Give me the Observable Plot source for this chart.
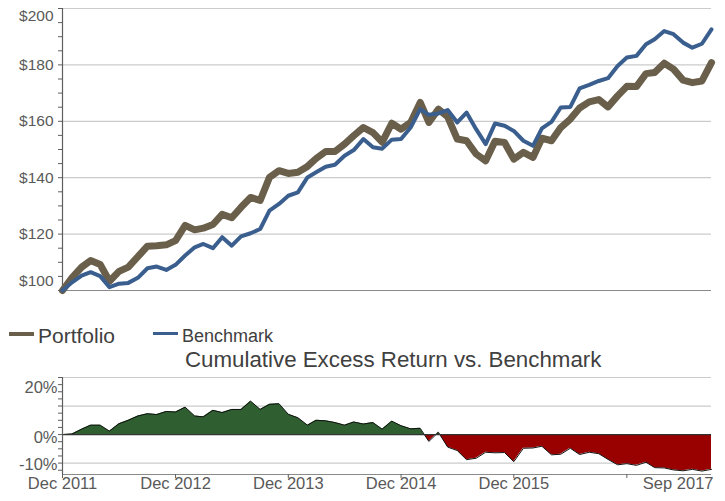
<!DOCTYPE html>
<html><head><meta charset="utf-8">
<script src="https://cdn.jsdelivr.net/npm/d3@7"></script>
<script src="https://cdn.jsdelivr.net/npm/@observablehq/plot@0.6"></script>
<style>
body{margin:0;background:#fff;font-family:"Liberation Sans",Arial,sans-serif;}
#wrap{position:relative;width:725px;height:501px;overflow:hidden;background:#fff}
#top{position:absolute;left:0;top:0}
#bot{position:absolute;left:0;top:370px}
.leg{position:absolute;white-space:nowrap;color:#404040;line-height:1}
.sw{position:absolute}
</style></head><body>
<div id="wrap">
  <div id="top"></div>
  <div id="legend"></div>
  <div class="leg" id="title" style="left:185px;top:349px;font-size:22.3px">Cumulative Excess Return vs. Benchmark</div>
  <div id="bot"></div>
</div>
<script>
// ---- data (monthly, Dec 2011 .. Sep 2017) ----
const startMonth = new Date(Date.UTC(2011, 11, 1));
const endMonth = new Date(Date.UTC(2017, 8, 1));
const seriesNames = ["Portfolio", "Benchmark"];
const seriesColors = ["#6a5f4b", "#3a5f8e"];

const portfolio = [100,104.6,108.3,110.6,109.2,103.3,106.8,108.3,112,115.7,115.9,116.2,117.7,123.1,121.5,122.1,123.4,127,125.8,129.5,
133,131.9,140.1,142.5,141.5,141.9,144,146.8,149.3,149.3,151.9,154.9,157.8,156,152.6,159.3,157.2,159.6,166.7,159.6,
164.3,161.6,153.7,153.1,148.4,146,152.9,152.5,146.6,149,147.2,154,153.1,157.8,160.8,164.7,166.9,167.7,165.1,169,
172.4,172.3,176.9,177.3,180.6,178.5,174.6,173.7,174.3,180.8];

const benchmark = [100,102.9,105.3,106.5,105.1,101.2,102.4,102.7,104.5,107.9,108.5,107.3,109.1,112.4,115.3,116.5,115,118.9,115.9,119.2,
120.3,121.8,128.3,130.7,133.6,134.8,140.1,141.9,143.9,144.6,147.8,149.8,153.7,150.8,150.3,153.5,153.7,157.8,164.3,162.3,
162.8,164,159.6,163.1,157.2,151.9,159.2,158.4,156.6,153.1,151.3,157.5,159.8,164.9,165.1,171.7,172.9,174.3,175.3,179.6,
182.6,183.2,187.3,189.1,192,190.9,187.9,186.1,187.5,192.6];

// cumulative excess return, percent
const excess = [0,0.2,1.9,3.3,3.3,1.2,3.8,5,6.5,7.3,7,8.1,7.9,9.6,6.5,6.2,8.5,7.7,8.8,8.8,
11.7,8.8,10.6,10.8,7.1,5.9,3.3,5,4.8,4.2,3.3,4.4,3.7,4.2,1.9,4.7,3.1,2,2.2,-2.4,
0.8,-4.4,-5.6,-8.8,-8.3,-6.2,-6.4,-6.3,-9.5,-4.8,-4.7,-4.1,-7.1,-6.9,-4.8,-7,-6.2,-6.7,-8.7,-10.6,
-10.2,-10.8,-9.7,-11.6,-11.7,-12.4,-12.7,-12.2,-12.8,-12.2];

// ticks
const topGrid = [120, 140, 160, 180, 200];
const topMinor = [100,105,110,115,120,125,130,135,140,145,150,155,160,165,170,175,180,185,190,195,200];
const botGrid = [20, 10, -10];
const botMinor = [-12.5,-10,-7.5,-5,-2.5,0,2.5,5,7.5,10,12.5,15,17.5,20];
const xTickYears = [2011, 2012, 2013, 2014, 2015, 2016];
const xLabelYears = [2011, 2012, 2013, 2014, 2015];

// ---- build ----
const months = d3.utcMonth.range(startMonth, d3.utcMonth.offset(endMonth, 1));
const rows = months.map((d, i) => ({date: d, portfolio: portfolio[i], benchmark: benchmark[i], excess: excess[i]}));
const xDomain = [startMonth, endMonth];
const xTicks = xTickYears.map(y => new Date(Date.UTC(y, 11, 1)));
const xLabels = xLabelYears.map(y => new Date(Date.UTC(y, 11, 1)));
const fmt = d3.utcFormat("%b %Y");
const font = '"Liberation Sans", Arial, sans-serif';

const topPlot = Plot.plot({
  width: 725, height: 300, marginLeft: 62, marginRight: 14, marginTop: 8, marginBottom: 10,
  x: {type: "utc", domain: xDomain, axis: null, label: null},
  y: {domain: [100, 200], axis: null, label: null},
  style: {fontFamily: font, fontSize: "15.5px", color: "#595959", background: "transparent", overflow: "visible"},
  marks: [
    Plot.gridY(topGrid, {stroke: "#cbcbcb", strokeOpacity: 1, strokeWidth: 1.2}),
    Plot.ruleY([100], {stroke: "#8a8a8a", strokeWidth: 1.2}),
    Plot.ruleX([startMonth], {stroke: "#5e5e5e", strokeWidth: 1.2}),
    Plot.axisY(topMinor, {tickSize: 4, tickFormat: () => "", stroke: "#5e5e5e", label: null}),
    Plot.axisY([200], {tickSize: 0, tickPadding: 9, tickFormat: d => "$" + d, dy: 8, fill: "#595959", label: null}),
    Plot.axisY([120, 140, 160, 180], {tickSize: 0, tickPadding: 9, tickFormat: d => "$" + d, fill: "#595959", label: null}),
    Plot.axisY([100], {tickSize: 0, tickPadding: 9, tickFormat: d => "$" + d, dy: -9, fill: "#595959", label: null}),
    Plot.lineY(rows, {x: "date", y: "portfolio", stroke: seriesColors[0], strokeWidth: 7, strokeLinejoin: "round"}),
    Plot.lineY(rows, {x: "date", y: "benchmark", stroke: seriesColors[1], strokeWidth: 4, strokeLinejoin: "round"})
  ]
});
document.getElementById("top").append(topPlot);

const botPlot = Plot.plot({
  width: 725, height: 131, marginLeft: 62, marginRight: 14, marginTop: 7, marginBottom: 27,
  x: {type: "utc", domain: xDomain, axis: null, label: null},
  y: {domain: [-14, 20], axis: null, label: null},
  style: {fontFamily: font, fontSize: "16.5px", color: "#595959", background: "transparent", overflow: "visible"},
  marks: [
    Plot.gridY(botGrid, {stroke: "#cbcbcb", strokeOpacity: 1, strokeWidth: 1.2}),
    Plot.areaY(rows, {x: "date", y1: 0, y2: "excess", fill: "url(#exGrad)"}),
    Plot.lineY(rows, {x: "date", y: "excess", stroke: "#111", strokeWidth: 1}),
    Plot.ruleY([0], {stroke: "#333", strokeWidth: 1.3}),
    Plot.ruleY([-14], {stroke: "#8a8a8a", strokeWidth: 1.2}),
    Plot.ruleX([startMonth], {stroke: "#5e5e5e", strokeWidth: 1.2}),
    Plot.axisY(botMinor, {tickSize: 4, tickFormat: () => "", stroke: "#5e5e5e", label: null}),
    Plot.axisY([20], {tickSize: 0, tickPadding: 5, tickFormat: d => d + "%", dy: 10, fill: "#595959", label: null}),
    Plot.axisY([0], {tickSize: 0, tickPadding: 5, tickFormat: d => d + "%", dy: 3.5, fill: "#595959", label: null}),
    Plot.axisY([-10], {tickSize: 0, tickPadding: 5, tickFormat: d => d + "%", dy: 2, fill: "#595959", label: null}),
    Plot.axisX(xTicks, {tickSize: 4, tickFormat: () => "", stroke: "#5e5e5e", label: null}),
    Plot.axisX(xLabels, {tickSize: 0, tickPadding: 3, tickFormat: fmt, fill: "#595959", label: null}),
    Plot.axisX([endMonth], {tickSize: 0, tickPadding: 3, tickFormat: fmt, textAnchor: "end", dx: 2, fill: "#595959", label: null})
  ]
});
// gradient: green above zero, red below (zero position from the plot's own y scale)
const y0 = botPlot.scale("y").apply(0);
const H = 131;
const off = (y0 / H).toFixed(4);
const svgNS = "http://www.w3.org/2000/svg";
const defs = document.createElementNS(svgNS, "defs");
defs.innerHTML = `<linearGradient id="exGrad" gradientUnits="userSpaceOnUse" x1="0" y1="0" x2="0" y2="${H}">
  <stop offset="0" stop-color="#2f5f30"/><stop offset="${off}" stop-color="#2f5f30"/>
  <stop offset="${off}" stop-color="#990000"/><stop offset="1" stop-color="#990000"/></linearGradient>`;
botPlot.insertBefore(defs, botPlot.firstChild);
d3.select(botPlot).selectAll('g[aria-label="area"] path').attr("fill", "url(#exGrad)");
document.getElementById("bot").append(botPlot);

// legend from series arrays
const legend = document.getElementById("legend");
const legendSpec = [
  {sw: [9, 332, 25, 4], tx: [38, 325], fs: 21},
  {sw: [153, 332, 25, 3], tx: [182, 327], fs: 18}
];
seriesNames.forEach((name, i) => {
  const s = legendSpec[i];
  const sw = document.createElement("div");
  sw.className = "sw";
  sw.style.cssText = `left:${s.sw[0]}px;top:${s.sw[1]}px;width:${s.sw[2]}px;height:${s.sw[3]}px;background:${seriesColors[i]}`;
  const t = document.createElement("div");
  t.className = "leg";
  t.style.cssText = `left:${s.tx[0]}px;top:${s.tx[1]}px;font-size:${s.fs}px`;
  t.textContent = name;
  legend.append(sw, t);
});
</script>
</body></html>
